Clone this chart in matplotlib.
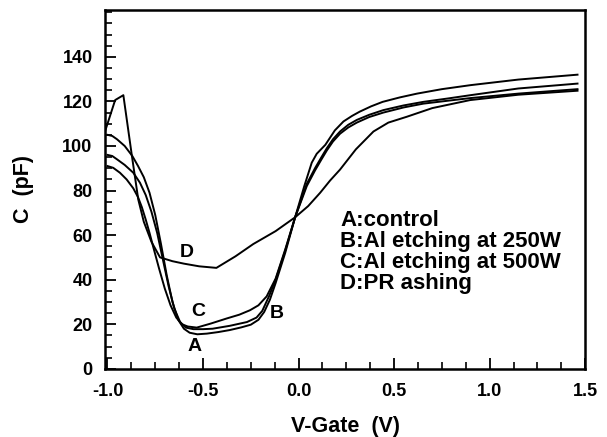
import matplotlib
matplotlib.use("Agg")
import matplotlib.pyplot as plt
from matplotlib.ticker import MultipleLocator

plt.rcParams['font.family'] = ['Liberation Sans', 'DejaVu Sans']
plt.rcParams['font.weight'] = 'bold'

# Curve A: control
a_x = [-1.0, -0.975, -0.95, -0.91, -0.87, -0.84, -0.81, -0.78, -0.75, -0.72, -0.69, -0.66,
       -0.63, -0.60, -0.57, -0.53, -0.48, -0.42, -0.36, -0.30, -0.25, -0.21, -0.18, -0.15,
       -0.12, -0.07, -0.018, 0.03, 0.069, 0.095, 0.14, 0.19, 0.235, 0.28, 0.32, 0.38,
       0.44, 0.53, 0.62, 0.75, 0.90, 1.15, 1.46]
a_y = [105, 104.5, 103, 100, 95.5, 91, 86, 79, 69, 56, 42, 30,
       22, 18, 16.2, 15.5, 15.8, 16.5, 17.4, 18.6, 19.8, 22, 25.5, 31,
       38.5, 52, 68, 82, 92.5, 96.5, 100.5, 107, 111, 113.5, 115.4, 117.8,
       119.8, 121.8, 123.5, 125.5, 127.3, 129.8, 132]

# Curve B: Al etching at 250W
b_x = [-1.0, -0.975, -0.95, -0.91, -0.865, -0.83, -0.80, -0.77, -0.74, -0.71, -0.68, -0.65,
       -0.62, -0.59, -0.55, -0.50, -0.45, -0.36, -0.27, -0.22, -0.19, -0.155, -0.12, -0.07,
       -0.018, 0.043, 0.086, 0.12, 0.148, 0.18, 0.217, 0.26, 0.305, 0.37, 0.444, 0.55,
       0.653, 0.78, 0.9, 1.15, 1.46]
b_y = [96, 95.5, 94, 91.5, 88, 83.5, 78, 70.5, 61, 49, 37, 27,
       21, 18.5, 17.8, 17.8, 18, 19.3, 21, 23, 26, 32.5, 40, 53,
       68, 83, 90, 95, 99, 103, 106.5, 109.5, 111.7, 114, 116.1, 118.2,
       119.8, 121.3, 122.8, 125.8, 128]

# Curve C: Al etching at 500W
c_x = [-1.0, -0.97, -0.935, -0.9, -0.865, -0.84, -0.82, -0.80, -0.78, -0.76, -0.73, -0.70,
       -0.67, -0.64, -0.61, -0.58, -0.533, -0.46, -0.376, -0.31, -0.254, -0.21, -0.167,
       -0.12, -0.07, -0.018, 0.043, 0.086, 0.12, 0.148, 0.18, 0.217, 0.26, 0.305, 0.37,
       0.444, 0.55, 0.653, 0.78, 0.9, 1.15, 1.46]
c_y = [91, 90.2, 88, 85, 81, 77, 72.5, 67, 61, 54.5, 45, 36,
       28.5, 23, 20, 19, 18.5, 20.3, 22.6, 24.3, 26.3, 28.5, 32.5,
       40.5, 53.5, 68, 82, 89, 94, 98, 102, 105.5, 108.3, 110.5, 113,
       115, 117.3, 119, 120.3, 121.5, 123.5, 125.5]

# Curve D: PR ashing
d_x = [-1.013, -0.96, -0.917, -0.873, -0.839, -0.81, -0.77, -0.725, -0.66, -0.6, -0.52,
       -0.43, -0.33, -0.237, -0.12, -0.018, 0.05, 0.113, 0.165, 0.217, 0.30, 0.392, 0.47,
       0.566, 0.70, 0.898, 1.15, 1.46]
d_y = [106.5, 120.6, 122.8, 96, 76, 66, 57, 50, 48.3, 47.2, 46, 45.3, 50.5, 56,
       61.8, 68, 73, 79, 84.5, 89.4, 98.5, 106.5, 110.5, 113.1, 117, 120.6, 123, 124.8]

curve_labels = ['A', 'B', 'C', 'D']
label_x = [-0.542, -0.114, -0.525, -0.585]
label_y = [9.9, 24.8, 25.8, 52.3]
legend_lines = ['A:control', 'B:Al etching at 250W', 'C:Al etching at 500W', 'D:PR ashing']

x_ticks = [-1.0, -0.5, 0.0, 0.5, 1.0, 1.5]
y_ticks = [0, 20, 40, 60, 80, 100, 120, 140]

fig = plt.figure(figsize=(6.07, 4.37), dpi=100)
ax = fig.add_axes([0.173, 0.156, 0.791, 0.821])

for xs, ys in [(a_x, a_y), (b_x, b_y), (c_x, c_y), (d_x, d_y)]:
    ax.plot(xs, ys, color='black', lw=1.4)

for t, x, y in zip(curve_labels, label_x, label_y):
    ax.text(x, y, t, fontsize=14, fontweight='bold', ha='center', va='center')

ax.text(0.49, 0.443, '\n'.join(legend_lines), transform=ax.transAxes,
        fontsize=16, fontweight='bold', ha='left', va='top', linespacing=1.0)

ax.set_xlim(-1.013, 1.5)
ax.set_ylim(0, 161)
ax.set_xticks(x_ticks)
ax.set_xticklabels(['%.1f' % v for v in x_ticks])
ax.set_yticks(y_ticks)
ax.xaxis.set_minor_locator(MultipleLocator(0.125))
ax.yaxis.set_minor_locator(MultipleLocator(5))
ax.tick_params(axis='both', which='major', direction='in', length=8, width=1.3,
               labelsize=13, top=False, right=False)
ax.tick_params(axis='both', which='minor', direction='in', length=5, width=1.2,
               top=False, right=False)
ax.tick_params(axis='x', pad=10)
ax.tick_params(axis='y', pad=9)
for lbl in ax.get_xticklabels() + ax.get_yticklabels():
    lbl.set_fontweight('bold')
for s in ax.spines.values():
    s.set_linewidth(1.8)

ax.set_xlabel('V-Gate  (V)', fontsize=15.5, fontweight='bold', labelpad=12)
ax.set_ylabel('C  (pF)', fontsize=15.5, fontweight='bold', labelpad=20)

fig.savefig('out.png', dpi=100)
